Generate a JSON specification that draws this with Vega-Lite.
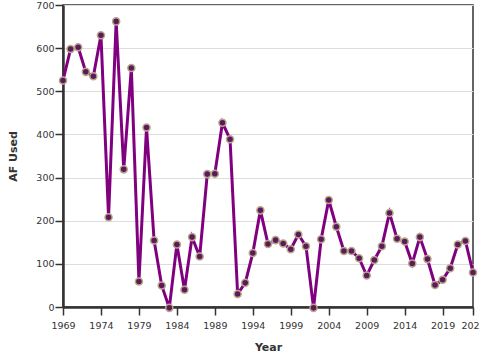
{
  "$schema": "https://vega.github.io/schema/vega-lite/v6.json",
  "width": 410,
  "height": 302,
  "padding": {"left": 7, "top": 0, "right": 5, "bottom": 5},
  "config": {
    "font": "DejaVu Sans",
    "view": {"stroke": "#333", "strokeWidth": 1.5},
    "axis": {"labelFont": "DejaVu Sans", "titleFont": "DejaVu Sans", "labelFontSize": 9.5, "titleFontSize": 11, "labelColor": "#333", "titleColor": "#333", "domainColor": "#333", "domainWidth": 2.5, "tickColor": "#333", "tickWidth": 1.5, "tickSize": 8, "gridColor": "#ddd"}
  },
  "data": {"values": [
    {"Year": 1969, "AF": 525}, {"Year": 1970, "AF": 598}, {"Year": 1971, "AF": 602}, {"Year": 1972, "AF": 545},
    {"Year": 1973, "AF": 535}, {"Year": 1974, "AF": 630}, {"Year": 1975, "AF": 208}, {"Year": 1976, "AF": 662},
    {"Year": 1977, "AF": 319}, {"Year": 1978, "AF": 554}, {"Year": 1979, "AF": 59}, {"Year": 1980, "AF": 416},
    {"Year": 1981, "AF": 154}, {"Year": 1982, "AF": 50}, {"Year": 1983, "AF": -2}, {"Year": 1984, "AF": 145},
    {"Year": 1985, "AF": 40}, {"Year": 1986, "AF": 162}, {"Year": 1987, "AF": 117}, {"Year": 1988, "AF": 308},
    {"Year": 1989, "AF": 309}, {"Year": 1990, "AF": 427}, {"Year": 1991, "AF": 389}, {"Year": 1992, "AF": 30},
    {"Year": 1993, "AF": 56}, {"Year": 1994, "AF": 125}, {"Year": 1995, "AF": 224}, {"Year": 1996, "AF": 146},
    {"Year": 1997, "AF": 155}, {"Year": 1998, "AF": 147}, {"Year": 1999, "AF": 134}, {"Year": 2000, "AF": 168},
    {"Year": 2001, "AF": 141}, {"Year": 2002, "AF": -2}, {"Year": 2003, "AF": 157}, {"Year": 2004, "AF": 248},
    {"Year": 2005, "AF": 186}, {"Year": 2006, "AF": 130}, {"Year": 2007, "AF": 130}, {"Year": 2008, "AF": 113},
    {"Year": 2009, "AF": 73}, {"Year": 2010, "AF": 109}, {"Year": 2011, "AF": 141}, {"Year": 2012, "AF": 218},
    {"Year": 2013, "AF": 158}, {"Year": 2014, "AF": 152}, {"Year": 2015, "AF": 101}, {"Year": 2016, "AF": 162},
    {"Year": 2017, "AF": 111}, {"Year": 2018, "AF": 51}, {"Year": 2019, "AF": 63}, {"Year": 2020, "AF": 90},
    {"Year": 2021, "AF": 145}, {"Year": 2022, "AF": 153}, {"Year": 2023, "AF": 80}
  ]},
  "encoding": {
    "x": {"field": "Year", "type": "quantitative", "scale": {"domain": [1969, 2023], "nice": false, "zero": false},
      "axis": {"values": [1969, 1974, 1979, 1984, 1989, 1994, 1999, 2004, 2009, 2014, 2019, 2023], "format": "d", "grid": false, "labelFlush": false, "labelOverlap": false, "labelPadding": 5, "titlePadding": 12}},
    "y": {"field": "AF", "type": "quantitative", "title": "AF Used", "scale": {"domain": [0, 700]},
      "axis": {"tickCount": 7, "labelPadding": 1, "titlePadding": 17}}
  },
  "layer": [
    {"mark": {"type": "line", "color": "#800080", "strokeWidth": 3, "clip": false}},
    {"mark": {"type": "point", "filled": true, "size": 50, "fill": "#5c1a5c", "stroke": "#b8a88a", "strokeWidth": 1.5, "opacity": 1, "clip": false}}
  ]
}
